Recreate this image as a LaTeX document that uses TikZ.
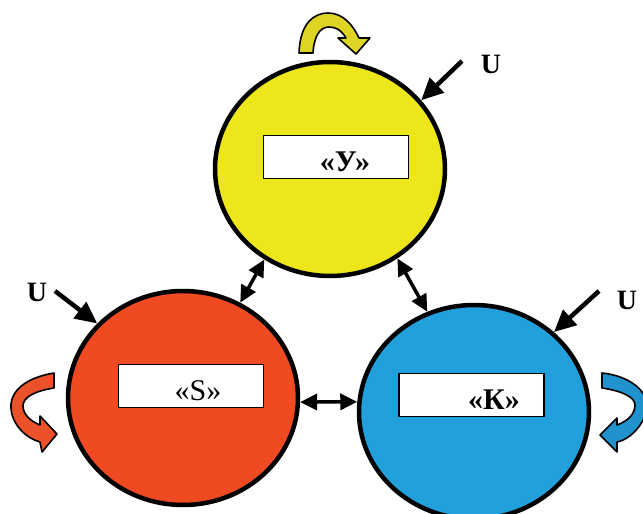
\documentclass[tikz,border=0pt]{standalone}
\usepackage{fontspec}
\setmainfont{Liberation Serif}
\usetikzlibrary{shapes.geometric,arrows.meta}
\definecolor{cyel}{RGB}{236,230,26}
\definecolor{cred}{RGB}{240,74,35}
\definecolor{cblue}{RGB}{34,160,220}
\definecolor{ayel}{RGB}{222,212,36}
\definecolor{ared}{RGB}{236,82,42}
\definecolor{ablue}{RGB}{32,146,206}
\begin{document}
\begin{tikzpicture}[x=1pt,y=-1pt,
 blob/.style={ellipse,draw=black,line width=4.5pt,minimum width=230pt,minimum height=214pt,inner sep=0pt},
 tag/.style={draw=black,fill=white,line width=1.8pt,minimum width=145pt,minimum height=43pt,inner sep=0pt},
 lbl/.style={font=\fontsize{30}{32}\selectfont\bfseries,inner sep=0pt},
 lblr/.style={font=\fontsize{30}{32}\selectfont,inner sep=0pt},
 ulbl/.style={font=\fontsize{28}{30}\selectfont\bfseries,inner sep=0pt},
 inarrow/.style={line width=4.5pt,-{Triangle[length=22pt,width=20pt]}},
 link/.style={line width=3.5pt,{Triangle[length=17pt,width=16pt]}-{Triangle[length=17pt,width=16pt]}},
 curv/.style={draw=black,line width=1.6pt,line join=round}]
\useasboundingbox (0,0) rectangle (643,514);
\fill[white] (0,0) rectangle (643,514);

% circles
\node[blob,fill=cyel] (Y) at (330,169) {};
\node[blob,fill=cred] (S) at (183,398) {};
\node[blob,fill=cblue] (K) at (474,412) {};

% boxes
\node[tag] (Yb) at (336,157) {};
\node[tag] (Sb) at (191,386) {};
\node[tag] (Kb) at (471.5,395) {};
\node[lbl] (Yt) at (345,162) {«У»};
\node[lblr] (St) at (198,391) {«S»};
\node[lbl] (Kt) at (494,400) {«К»};

% links
\draw[link] (Y.-126) -- (S.59);
\draw[link] (Y.-53) -- (K.115);
\draw[link] (S.-2) -- (K.175);

% U inputs
\node[ulbl] (U1) at (491,64) {U};
\node[ulbl] (U2) at (37,292) {U};
\node[ulbl] (U3) at (627,300) {U};
\coordinate (a1) at (462,61);
\coordinate (a2) at (55,291);
\coordinate (a3) at (599,291);
\draw[inarrow] (a1) -- (Y.37);
\draw[inarrow] (a2) -- (S.139);
\draw[inarrow] (a3) -- (K.45);

% curved arrows
\filldraw[curv,fill=ayel] (299,53) .. controls (300,22) and (315,13) .. (328,13)
  .. controls (343,13) and (353,25) .. (359,38) -- (370,38) -- (356,54) -- (338,38) -- (346,38)
  .. controls (341,30) and (336,27) .. (329,27) .. controls (320,27) and (314,36) .. (313,53) -- cycle;
\filldraw[curv,fill=ared] (54,373) .. controls (24,378) and (10,392) .. (11,408)
  .. controls (12,426) and (28,439) .. (40,442) -- (42,452) -- (57,434) -- (40,416) -- (40,425)
  .. controls (30,421) and (23,414) .. (23,406) .. controls (23,397) and (35,391) .. (54,388) -- cycle;
\filldraw[curv,fill=ablue] (602,373) .. controls (631,376) and (647,392) .. (647,405)
  .. controls (647,421) and (632,439) .. (617,442) -- (617,452) -- (600,435) -- (617,418) -- (617,425)
  .. controls (628,421) and (635,414) .. (635,405) .. controls (635,397) and (622,391) .. (602,388) -- cycle;
\end{tikzpicture}
\end{document}
